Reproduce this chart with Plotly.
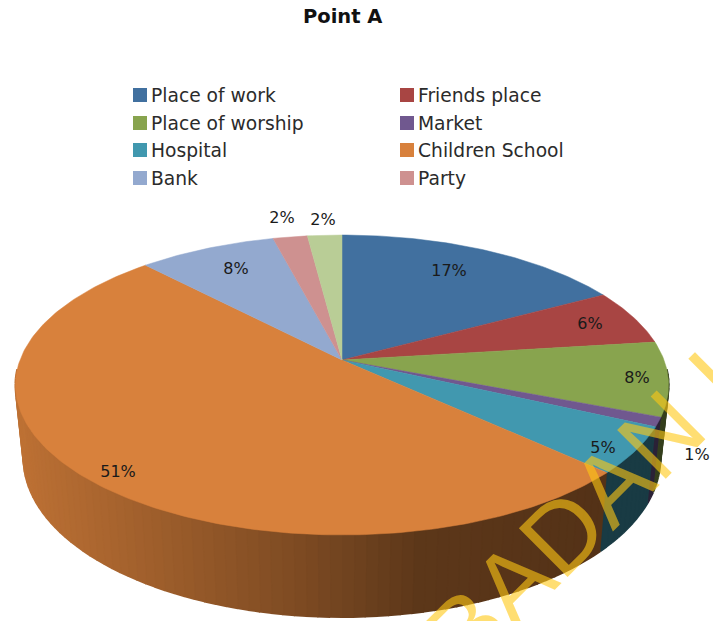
import numpy as np
import plotly.graph_objects as go

# Survey shares for Point A
categories = ["Place of work", "Friends place", "Place of worship", "Market", "Hospital",
              "Children School", "Bank", "Party", "Others"]
shares = [17, 6, 8, 1, 5, 51, 8, 2, 2]
colors = ["#41709F", "#A84543", "#88A44E", "#70588F", "#4198AF", "#D8813C", "#93A9CF", "#CE9190", "#B9CD96"]

# Text anchors on the page, in pixels
label_xy = [(449, 272), (590, 325), (637, 379), (697, 456), (603, 449), (118, 473), (236, 270), (282, 219), (323, 221)]
legend_xy = [(140, 95), (407, 95), (140, 123), (407, 123), (140, 150), (407, 150), (140, 178), (407, 178)]

# Projection of the pie disc onto the page
CX, CY = 342.0, 360.0
RX, RY = 322.0, 145.8
PERSP = 1 / 6
DEPTH = 72.0
BOTTOM_SCALE = 0.975


def rim(theta, depth=0.0, scale=1.0):
    """Page position of a rim point; theta runs clockwise from twelve o'clock."""
    px, py = np.sin(theta), np.cos(theta)
    s = 1 / (1 + PERSP * py)
    return CX + scale * RX * px * s, CY + s * (depth - scale * RY * py)


def wall_shade(x):
    return np.interp(x, [14, 300, 420, 600, 670], [0.88, 0.58, 0.43, 0.39, 0.39])


def hex_rgb(c):
    return [int(c[i:i + 2], 16) for i in (1, 3, 5)]


edges = np.cumsum([0] + shares) / sum(shares) * 2 * np.pi
fig = go.Figure()

# Side wall: narrow shaded strips along the front half of each slice
for i, color in enumerate(colors):
    a0, a1 = edges[i], edges[i + 1]
    n = max(2, int(shares[i] * 2))
    steps = np.linspace(a0, a1, n + 1)
    for t0, t1 in zip(steps[:-1], steps[1:]):
        if np.cos((t0 + t1) / 2) > -0.05:
            continue
        tt = np.linspace(t0, t1, 4)
        xt, yt = rim(tt)
        xb, yb = rim(tt[::-1], DEPTH, BOTTOM_SCALE)
        k = wall_shade((xt[1] + xt[2]) / 2)
        shade = "rgb(%d,%d,%d)" % tuple(int(v * k) for v in hex_rgb(color))
        fig.add_trace(go.Scatter(
            x=np.r_[xt, xb], y=np.r_[yt, yb], mode="lines", fill="toself",
            fillcolor=shade, line=dict(color=shade, width=2),
            hoverinfo="skip", showlegend=False))

# Top face of the pie
for i, color in enumerate(colors):
    tt = np.linspace(edges[i], edges[i + 1], max(8, shares[i] * 4))
    xr, yr = rim(tt)
    fig.add_trace(go.Scatter(
        x=np.r_[CX, xr, CX], y=np.r_[CY, yr, CY], mode="lines", fill="toself",
        fillcolor=color, line=dict(color=color, width=0.5),
        name=categories[i], hoverinfo="name", showlegend=False))

# Percentage labels
fig.add_trace(go.Scatter(
    x=[p[0] for p in label_xy], y=[p[1] for p in label_xy], mode="text",
    text=[f"{v}%" for v in shares], textposition="middle center",
    textfont=dict(family="DejaVu Sans", size=16, color="#1a1a1a"),
    hoverinfo="skip", showlegend=False))

# Legend keys and names in two columns
fig.add_trace(go.Scatter(
    x=[p[0] for p in legend_xy], y=[p[1] for p in legend_xy], mode="markers",
    marker=dict(symbol="square", size=14, color=colors[:8]),
    hoverinfo="skip", showlegend=False))
fig.add_trace(go.Scatter(
    x=[p[0] + 11 for p in legend_xy], y=[p[1] + 2 for p in legend_xy], mode="text",
    text=categories[:8], textposition="middle right",
    textfont=dict(family="DejaVu Sans", size=18.7, color="#2b2b2b"),
    hoverinfo="skip", showlegend=False))

fig.update_layout(
    width=713, height=621, margin=dict(l=0, r=0, t=0, b=0),
    paper_bgcolor="white", plot_bgcolor="white", showlegend=False,
    xaxis=dict(range=[0, 713], visible=False, fixedrange=True),
    yaxis=dict(range=[621, 0], visible=False, fixedrange=True),
    annotations=[
        dict(text="<b>Point A</b>", x=342, y=16, xref="x", yref="y", showarrow=False,
             font=dict(family="DejaVu Sans", size=19.5, color="#111111")),
        dict(text="BADAN I", x=584, y=511, xref="x", yref="y", showarrow=False, textangle=-45,
             font=dict(family="Liberation Sans", size=100, color="rgba(255,200,20,0.6)")),
    ],
)

fig.write_html("out.html")
